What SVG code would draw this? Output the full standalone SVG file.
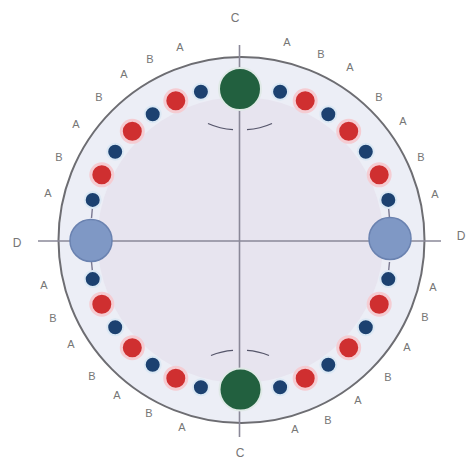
<svg xmlns="http://www.w3.org/2000/svg" width="471" height="461" viewBox="0 0 471 461">
<defs>
<style>
.lbl{font-family:"Liberation Sans",Arial,sans-serif;font-size:11px;fill:#767676;text-anchor:middle;dominant-baseline:central}
.big{font-size:12px}
.axis{stroke:#8a8898;stroke-width:1.6;fill:none}
.arc{stroke:#55556a;stroke-width:1.3;fill:none}
.stem{stroke:#7a7890;stroke-width:1.4}
.r{fill:#cf2f30;stroke:#f5ccd2;stroke-width:3}
.b{fill:#1c4170;stroke:#dbe8f4;stroke-width:2}
.g{fill:#22603f;stroke:#dfe9e6;stroke-width:2}
.d{fill:#7f98c5;stroke:#6a82b0;stroke-width:1.5}
</style>
</defs>
<rect width="471" height="461" fill="#ffffff"/>
<g id="disk">
<circle cx="241.5" cy="240" r="183" fill="#eceef6" stroke="#6d6d72" stroke-width="2"/>
<circle cx="240.5" cy="240" r="143" fill="#e7e4ef"/>
</g>
<g id="connectors">
<line class="axis" x1="239.5" y1="45" x2="239.5" y2="437"/>
<line class="axis" x1="38" y1="241" x2="441" y2="241"/>
<path class="arc" d="M208,123.5 A70,70 0 0 0 233,129.6"/>
<path class="arc" d="M247,129.6 A70,70 0 0 0 272,123.5"/>
<path class="arc" d="M211,355.5 A70,70 0 0 1 233,350.4"/>
<path class="arc" d="M247,350.4 A70,70 0 0 1 269,355.5"/>
<line class="stem" x1="91.5" y1="218" x2="92.7" y2="205"/>
<line class="stem" x1="91.5" y1="262" x2="92.7" y2="274"/>
<line class="stem" x1="389.5" y1="218" x2="388.3" y2="205"/>
<line class="stem" x1="389.5" y1="262" x2="388.3" y2="274"/>
</g>
<g id="C-top"><circle class="g" cx="240" cy="89" r="21"/></g>
<g id="C-bottom"><circle class="g" cx="240.5" cy="389.5" r="21"/></g>
<g id="D-left"><circle class="d" cx="91" cy="240.5" r="21"/></g>
<g id="D-right"><circle class="d" cx="390" cy="238.5" r="21"/></g>
<g id="ring-top-right">
<circle class="b" cx="280.1" cy="91.7" r="8"/>
<circle class="r" cx="305.2" cy="100.8" r="11"/>
<circle class="b" cx="328.3" cy="114.2" r="8"/>
<circle class="r" cx="348.7" cy="131.3" r="11"/>
<circle class="b" cx="365.8" cy="151.7" r="8"/>
<circle class="r" cx="379.2" cy="174.8" r="11"/>
<circle class="b" cx="388.3" cy="199.9" r="8"/>
</g>
<g id="ring-bottom-right">
<circle class="b" cx="388.3" cy="279.1" r="8"/>
<circle class="r" cx="379.2" cy="304.2" r="11"/>
<circle class="b" cx="365.8" cy="327.3" r="8"/>
<circle class="r" cx="348.7" cy="347.7" r="11"/>
<circle class="b" cx="328.3" cy="364.8" r="8"/>
<circle class="r" cx="305.2" cy="378.2" r="11"/>
<circle class="b" cx="280.1" cy="387.3" r="8"/>
</g>
<g id="ring-top-left">
<circle class="b" cx="200.9" cy="91.7" r="8"/>
<circle class="r" cx="175.8" cy="100.8" r="11"/>
<circle class="b" cx="152.7" cy="114.2" r="8"/>
<circle class="r" cx="132.3" cy="131.3" r="11"/>
<circle class="b" cx="115.2" cy="151.7" r="8"/>
<circle class="r" cx="101.8" cy="174.8" r="11"/>
<circle class="b" cx="92.7" cy="199.9" r="8"/>
</g>
<g id="ring-bottom-left">
<circle class="b" cx="92.7" cy="279.1" r="8"/>
<circle class="r" cx="101.8" cy="304.2" r="11"/>
<circle class="b" cx="115.2" cy="327.3" r="8"/>
<circle class="r" cx="132.3" cy="347.7" r="11"/>
<circle class="b" cx="152.7" cy="364.8" r="8"/>
<circle class="r" cx="175.8" cy="378.2" r="11"/>
<circle class="b" cx="200.9" cy="387.3" r="8"/>
</g>
<g id="labels">
<text class="lbl big" x="235" y="18">C</text>
<text class="lbl big" x="240" y="453">C</text>
<text class="lbl big" x="17" y="243">D</text>
<text class="lbl big" x="461" y="236">D</text>
<text class="lbl" x="180" y="47">A</text>
<text class="lbl" x="150" y="59">B</text>
<text class="lbl" x="124" y="74">A</text>
<text class="lbl" x="99" y="97">B</text>
<text class="lbl" x="76" y="124">A</text>
<text class="lbl" x="59" y="157">B</text>
<text class="lbl" x="48" y="193">A</text>
<text class="lbl" x="287" y="42">A</text>
<text class="lbl" x="321" y="54">B</text>
<text class="lbl" x="350" y="67">A</text>
<text class="lbl" x="379" y="97">B</text>
<text class="lbl" x="403" y="121">A</text>
<text class="lbl" x="421" y="157">B</text>
<text class="lbl" x="435" y="194">A</text>
<text class="lbl" x="44" y="285">A</text>
<text class="lbl" x="53" y="318">B</text>
<text class="lbl" x="71" y="344">A</text>
<text class="lbl" x="92" y="376">B</text>
<text class="lbl" x="117" y="395">A</text>
<text class="lbl" x="149" y="413">B</text>
<text class="lbl" x="182" y="427">A</text>
<text class="lbl" x="433" y="287">A</text>
<text class="lbl" x="425" y="317">B</text>
<text class="lbl" x="407" y="347">A</text>
<text class="lbl" x="388" y="377">B</text>
<text class="lbl" x="358" y="400">A</text>
<text class="lbl" x="328" y="420">B</text>
<text class="lbl" x="295" y="429">A</text>
</g>
</svg>
